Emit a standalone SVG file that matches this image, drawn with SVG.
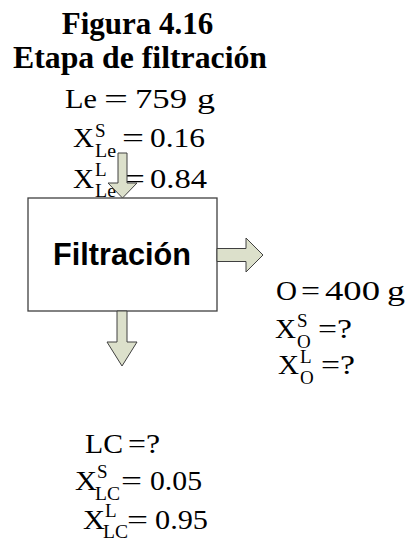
<svg xmlns="http://www.w3.org/2000/svg" width="409" height="542" viewBox="0 0 409 542">
<style>
.t{font-family:"Liberation Serif","Times New Roman",serif;font-weight:bold;font-size:31px;fill:#000;text-anchor:middle}
.m{font-family:"Liberation Serif","Times New Roman",serif;font-size:27px;fill:#000}
.s{font-family:"Liberation Serif","Times New Roman",serif;font-size:19px;fill:#000}
.n{font-family:"Liberation Sans",Arial,sans-serif;font-weight:bold;font-size:30.5px;fill:#000}
.box{fill:#fff;stroke:#404040;stroke-width:1.3}
.arr{fill:#DCE0CB;stroke:#404040;stroke-width:1}
</style>
<g id="title">
<text class="t" x="137.5" y="34">Figura 4.16</text>
<text class="t" x="140" y="68" textLength="254" lengthAdjust="spacingAndGlyphs">Etapa de filtración</text>
</g>
<g id="stream-Le">
<text class="m" x="65" y="108" textLength="32" lengthAdjust="spacingAndGlyphs">Le</text>
<text class="m" x="104" y="108" textLength="24" lengthAdjust="spacingAndGlyphs">=</text>
<text class="m" x="135" y="108" textLength="52" lengthAdjust="spacingAndGlyphs">759</text>
<text class="m" x="197" y="108" textLength="18" lengthAdjust="spacingAndGlyphs">g</text>
<text class="m" x="73" y="147" textLength="21" lengthAdjust="spacingAndGlyphs">X</text>
<text class="s" x="95" y="137">S</text>
<text class="s" x="95" y="157" textLength="21" lengthAdjust="spacingAndGlyphs">Le</text>
<text class="m" x="122" y="147" textLength="22" lengthAdjust="spacingAndGlyphs">=</text>
<text class="m" x="150" y="147" textLength="55" lengthAdjust="spacingAndGlyphs">0.16</text>
<text class="m" x="73" y="188" textLength="21" lengthAdjust="spacingAndGlyphs">X</text>
<text class="s" x="95" y="176">L</text>
<text class="s" x="95" y="197" textLength="21" lengthAdjust="spacingAndGlyphs">Le</text>
<text class="m" x="123" y="188" textLength="22" lengthAdjust="spacingAndGlyphs">=</text>
<text class="m" x="150" y="188" textLength="57" lengthAdjust="spacingAndGlyphs">0.84</text>
</g>
<g id="filtracion">
<rect class="box" x="28" y="198" width="189" height="113"/>
<text class="n" x="53" y="265" textLength="138" lengthAdjust="spacingAndGlyphs">Filtración</text>
</g>
<g id="stream-O">
<text class="m" x="276" y="300" textLength="21" lengthAdjust="spacingAndGlyphs">O</text>
<text class="m" x="301" y="300" textLength="19" lengthAdjust="spacingAndGlyphs">=</text>
<text class="m" x="325" y="300" textLength="55" lengthAdjust="spacingAndGlyphs">400</text>
<text class="m" x="387" y="300" textLength="18" lengthAdjust="spacingAndGlyphs">g</text>
<text class="m" x="275" y="338" textLength="21" lengthAdjust="spacingAndGlyphs">X</text>
<text class="s" x="297" y="327">S</text>
<text class="s" x="297" y="348">O</text>
<text class="m" x="318" y="338" textLength="34" lengthAdjust="spacingAndGlyphs">=?</text>
<text class="m" x="278" y="374" textLength="21" lengthAdjust="spacingAndGlyphs">X</text>
<text class="s" x="300" y="363">L</text>
<text class="s" x="300" y="384">O</text>
<text class="m" x="321" y="374" textLength="34" lengthAdjust="spacingAndGlyphs">=?</text>
</g>
<g id="stream-LC">
<text class="m" x="85" y="453" textLength="38" lengthAdjust="spacingAndGlyphs">LC</text>
<text class="m" x="128" y="453" textLength="32" lengthAdjust="spacingAndGlyphs">=?</text>
<text class="m" x="75" y="490" textLength="22" lengthAdjust="spacingAndGlyphs">X</text>
<text class="s" x="97" y="478">S</text>
<text class="s" x="95" y="500" textLength="25" lengthAdjust="spacingAndGlyphs">LC</text>
<text class="m" x="121" y="490" textLength="21" lengthAdjust="spacingAndGlyphs">=</text>
<text class="m" x="150" y="490" textLength="52" lengthAdjust="spacingAndGlyphs">0.05</text>
<text class="m" x="83" y="529" textLength="22" lengthAdjust="spacingAndGlyphs">X</text>
<text class="s" x="105" y="517">L</text>
<text class="s" x="103" y="538" textLength="25" lengthAdjust="spacingAndGlyphs">LC</text>
<text class="m" x="127" y="529" textLength="21" lengthAdjust="spacingAndGlyphs">=</text>
<text class="m" x="155" y="529" textLength="53" lengthAdjust="spacingAndGlyphs">0.95</text>
</g>
<g id="connectors">
<polygon class="arr" points="118,153 127,153 127,183 137,183 122.5,198 108,183 118,183"/>
<polygon class="arr" points="117,311 127,311 127,342 137,342 122,366 107,342 117,342"/>
<polygon class="arr" points="217,248.5 246,248.5 246,238 263,255 246,272 246,261.5 217,261.5"/>
</g>
</svg>
